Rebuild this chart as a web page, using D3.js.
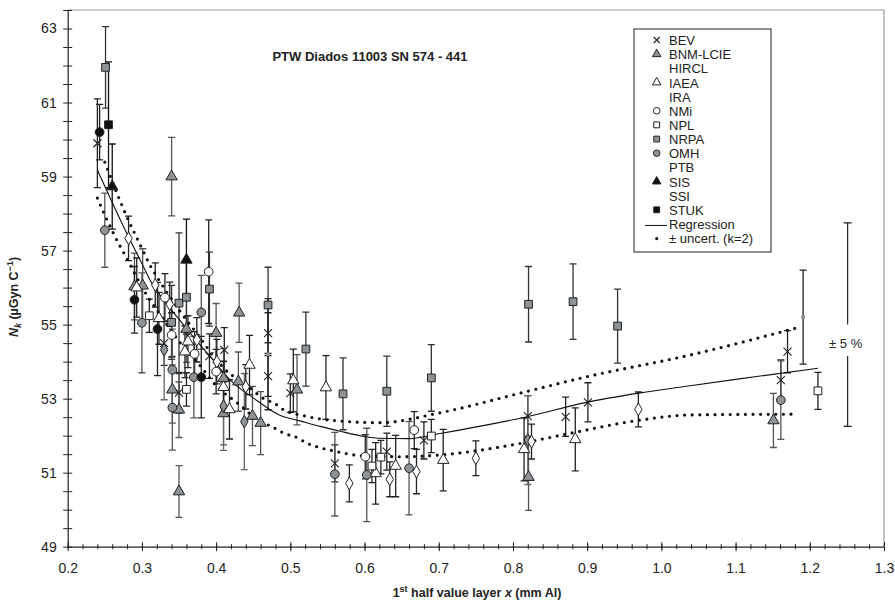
<!DOCTYPE html>
<html>
<head>
<meta charset="utf-8">
<script src="https://cdn.jsdelivr.net/npm/d3@7/dist/d3.min.js"></script>
<style>
  body { margin: 0; background: #fff; }
  svg { font-family: "Liberation Sans", Arial, sans-serif; }
</style>
</head>
<body>
<svg id="chart" width="895" height="601"></svg>
<script>
// each point: [half value layer x (mm Al), Nk (uGy/nC), expanded uncertainty]
const BEV = [
  [0.240, 59.90, 1.20], [0.330, 54.50, 0.60], [0.350, 53.16, 0.55], [0.391, 54.15, 0.60],
  [0.411, 54.32, 0.60], [0.470, 54.77, 0.55], [0.470, 53.61, 0.55], [0.500, 53.15, 0.52],
  [0.560, 51.25, 0.50], [0.630, 51.57, 0.50], [0.680, 51.87, 0.50], [0.820, 52.53, 0.55],
  [0.871, 52.51, 0.53], [0.901, 52.90, 0.53], [1.161, 53.50, 0.55], [1.170, 54.27, 0.57]
]
const BNM_LCIE = [
  [0.290, 56.03, 0.90], [0.301, 56.05, 1.00], [0.340, 59.00, 1.06], [0.341, 53.24, 0.90],
  [0.350, 52.70, 0.75], [0.350, 50.49, 0.70], [0.360, 54.88, 0.90], [0.400, 54.77, 0.80],
  [0.410, 53.55, 0.80], [0.410, 52.60, 0.85], [0.431, 55.32, 0.80], [0.430, 53.46, 0.80],
  [0.449, 52.53, 0.80], [0.460, 52.34, 0.85], [0.509, 53.24, 0.95], [0.821, 50.88, 0.90],
  [1.151, 52.41, 0.73]
]
const HIRCL = [
  [0.330, 54.32, 1.35], [0.410, 52.80, 1.20], [0.438, 52.38, 1.30], [0.820, 51.88, 1.20]
]
const IAEA = [
  [0.293, 56.00, 0.80], [0.323, 55.17, 0.70], [0.358, 54.27, 0.70], [0.362, 54.54, 0.70],
  [0.410, 53.31, 0.70], [0.418, 52.71, 0.80], [0.445, 53.91, 0.80], [0.504, 53.49, 0.85],
  [0.548, 53.30, 0.86], [0.615, 50.98, 0.83], [0.642, 51.18, 0.83], [0.706, 51.34, 0.83],
  [0.815, 51.63, 0.85], [0.884, 51.90, 0.85]
]
const IRA = [
  [0.282, 57.33, 0.60], [0.318, 56.07, 0.60], [0.3375, 55.55, 0.60], [0.374, 54.59, 0.60],
  [0.401, 54.00, 0.60], [0.440, 53.32, 0.60], [0.5795, 50.71, 0.50], [0.634, 50.82, 0.47],
  [0.670, 51.03, 0.60], [0.750, 51.39, 0.47], [0.825, 51.84, 0.47], [0.969, 52.71, 0.47]
]
const NMI = [
  [0.331, 55.73, 0.65], [0.340, 54.72, 0.60], [0.371, 54.21, 0.60], [0.390, 56.43, 1.40],
  [0.400, 53.73, 0.60], [0.601, 51.43, 0.60], [0.667, 52.15, 0.50]
]
const NPL = [
  [0.310, 55.24, 0.45], [0.360, 53.25, 0.45], [0.610, 51.18, 0.45], [0.622, 51.42, 0.45],
  [0.690, 51.99, 0.45], [1.211, 53.21, 0.50]
]
const NRPA = [
  [0.251, 61.95, 1.10], [0.340, 55.06, 1.00], [0.350, 55.58, 1.90], [0.360, 55.74, 1.00],
  [0.391, 55.96, 1.00], [0.470, 55.53, 1.02], [0.521, 54.34, 1.00], [0.571, 53.13, 0.97],
  [0.630, 53.20, 0.95], [0.690, 53.56, 0.90], [0.821, 55.55, 1.02], [0.881, 55.62, 1.02],
  [0.941, 54.96, 1.00]
]
const OMH = [
  [0.250, 57.55, 1.00], [0.300, 55.05, 1.35], [0.341, 53.78, 1.10], [0.341, 52.76, 1.15],
  [0.370, 53.58, 1.10], [0.380, 55.33, 1.00], [0.560, 50.96, 1.13], [0.603, 50.94, 1.26],
  [0.660, 51.12, 1.26], [1.161, 52.96, 1.06]
]
const PTB = [
  [0.243, 60.20, 0.75], [0.290, 55.67, 0.90], [0.321, 54.88, 1.26], [0.380, 53.58, 1.10]
]
const SIS = [[0.260, 58.73, 1.15], [0.360, 56.75, 1.10]]
const SSI = [[0.470, 54.20, 1.50], [1.191, 55.20, 1.27]]
const STUK = [[0.255, 60.40, 1.70]]

// regression and its k=2 band
const REG_X = [0.24, 0.26, 0.28, 0.30, 0.311, 0.33, 0.351, 0.37, 0.392, 0.419, 0.45, 0.486, 0.513,
  0.54, 0.567, 0.60, 0.621, 0.66, 0.702, 0.76, 0.819, 0.899, 0.97, 1.039, 1.10, 1.211]
const REG_Y = [59.18, 58.30, 57.45, 56.65, 56.20, 55.65, 55.12, 54.65, 54.14, 53.50, 53.02, 52.55, 52.40,
  52.25, 52.12, 51.98, 51.93, 51.92, 52.06, 52.27, 52.51, 52.90, 53.15, 53.35, 53.52, 53.82]
const UP_X = [0.25, 0.27, 0.28, 0.30, 0.31, 0.32, 0.35, 0.38, 0.40, 0.421, 0.431, 0.45, 0.46, 0.47,
  0.482, 0.49, 0.52, 0.558, 0.621, 0.702, 0.81, 0.899, 1.039, 1.18]
const UP_Y = [59.39, 58.37, 57.90, 57.06, 56.64, 56.30, 55.40, 54.60, 54.05, 53.64, 53.50, 53.22, 53.05, 52.95,
  52.83, 52.71, 52.53, 52.41, 52.35, 52.62, 53.15, 53.59, 54.18, 54.90]
const LO_X = [0.24, 0.25, 0.27, 0.28, 0.29, 0.31, 0.32, 0.35, 0.38, 0.40, 0.43, 0.44, 0.45, 0.47, 0.482,
  0.49, 0.511, 0.521, 0.536, 0.56, 0.60, 0.65, 0.702, 0.81, 0.881, 0.971, 1.039, 1.18]
const LO_Y = [58.42, 57.96, 57.14, 56.78, 56.39, 55.69, 55.40, 54.55, 53.85, 53.35, 52.86, 52.69, 52.51, 52.29, 52.17,
  52.08, 51.93, 51.81, 51.70, 51.58, 51.45, 51.43, 51.48, 51.79, 52.08, 52.42, 52.56, 52.58]

const X_TICKS = [0.2, 0.3, 0.4, 0.5, 0.6, 0.7, 0.8, 0.9, 1.0, 1.1, 1.2, 1.3]
const Y_LABELS = [49, 51, 53, 55, 57, 59, 61, 63]
const FIVE_PCT = [1.251, 55.0, 2.75]   // x, centre, half-width of the +-5 % bar

const GRAY = '#8d9297'
// marker style per series (legend: false -> row shows no symbol, as in the original)
const SERIES = [
  { name: 'BEV', data: BEV, shape: 'cross', fill: 'none', bar: '#222', legend: true },
  { name: 'BNM-LCIE', data: BNM_LCIE, shape: 'tri', fill: GRAY, bar: '#555', legend: true },
  { name: 'HIRCL', data: HIRCL, shape: 'dia', fill: GRAY, bar: '#666', legend: false },
  { name: 'IAEA', data: IAEA, shape: 'tri', fill: '#fff', bar: '#222', legend: true },
  { name: 'IRA', data: IRA, shape: 'dia', fill: '#fff', bar: '#222', legend: false },
  { name: 'NMi', data: NMI, shape: 'circ', fill: '#fff', bar: '#222', legend: true },
  { name: 'NPL', data: NPL, shape: 'sq', fill: '#fff', bar: '#222', legend: true },
  { name: 'NRPA', data: NRPA, shape: 'sq', fill: GRAY, bar: '#333', legend: true },
  { name: 'OMH', data: OMH, shape: 'circ', fill: GRAY, bar: '#555', legend: true },
  { name: 'PTB', data: PTB, shape: 'circ', fill: '#111', bar: '#222', legend: false },
  { name: 'SIS', data: SIS, shape: 'tri', fill: '#111', bar: '#111', legend: true },
  { name: 'SSI', data: SSI, shape: 'tiny', fill: GRAY, bar: '#222', legend: false },
  { name: 'STUK', data: STUK, shape: 'sq', fill: '#111', bar: '#111', legend: true }
]

const svg = d3.select('#chart')
const xScale = d3.scaleLinear().domain([0.2, 1.3]).range([67.7, 884])
const yScale = d3.scaleLinear().domain([49, 63.5]).range([546.7, 10])

// plot frame (top / right)
svg.append('path')
  .attr('d', `M${xScale(0.2)},${yScale(63.5)}H${xScale(1.3)}V${yScale(49)}`)
  .attr('fill', 'none').attr('stroke', '#9a9a9a').attr('stroke-width', 1.2)

// axes, ticks crossing the axis line
const xMinor = d3.range(0, 56).map(i => 0.2 + i * 0.02).filter(v => v <= 1.3001)
const gxMinor = svg.append('g').attr('transform', `translate(0,${yScale(49)})`)
  .call(d3.axisBottom(xScale).tickValues(xMinor).tickFormat('').tickSize(2.5).tickSizeOuter(0))
gxMinor.select('.domain').remove()
gxMinor.selectAll('.tick line').attr('y1', -2.5)

const gx = svg.append('g').attr('transform', `translate(0,${yScale(49)})`)
  .call(d3.axisBottom(xScale).tickValues(X_TICKS).tickFormat(d3.format('.1f')).tickSize(4.5).tickSizeOuter(0))
gx.selectAll('.tick line').attr('y1', -4.5)
gx.selectAll('.tick text').attr('y', 16).attr('font-size', 14).attr('fill', '#222')

const yTicks = d3.range(0, 30).map(i => 49 + i * 0.5)
const gy = svg.append('g').attr('transform', `translate(${xScale(0.2)},0)`)
  .call(d3.axisLeft(yScale).tickValues(yTicks)
    .tickFormat(d => Y_LABELS.includes(d) ? d : '').tickSize(4.5).tickSizeOuter(0))
gy.selectAll('.tick line').attr('x1', 4.5)
gy.selectAll('.tick text').attr('x', -11).attr('font-size', 14).attr('fill', '#222')
svg.selectAll('.domain').attr('stroke', '#222').attr('stroke-width', 1.2)
svg.selectAll('.tick line').attr('stroke', '#222')

// axis titles
svg.append('text')
  .attr('x', 477).attr('y', 597).attr('text-anchor', 'middle')
  .attr('font-size', 12.5).attr('font-weight', 'bold').attr('fill', '#222')
  .call(t => {
    t.append('tspan').text('1')
    t.append('tspan').text('st').attr('font-size', 9).attr('dy', -5)
    t.append('tspan').text(' half value layer ').attr('dy', 5)
    t.append('tspan').text('x').attr('font-style', 'italic')
    t.append('tspan').text(' (mm Al)')
  })

svg.append('text')
  .attr('transform', 'translate(18,297) rotate(-90)').attr('text-anchor', 'middle')
  .attr('font-size', 12.5).attr('font-weight', 'bold').attr('fill', '#222')
  .call(t => {
    t.append('tspan').text('N').attr('font-style', 'italic')
    t.append('tspan').text('k').attr('font-style', 'italic').attr('font-size', 9).attr('dy', 3)
    t.append('tspan').text(' (µGyn C').attr('dy', -3)
    t.append('tspan').text('−1').attr('font-size', 9).attr('dy', -5)
    t.append('tspan').text(')').attr('dy', 5)
  })

svg.append('text')
  .attr('x', 370).attr('y', 61).attr('text-anchor', 'middle')
  .attr('font-size', 13).attr('font-weight', 'bold').attr('fill', '#222')
  .text('PTW Diados 11003 SN 574 - 441')

// error bars
const gBars = svg.append('g')
SERIES.forEach(s => {
  s.data.forEach(([hx, nk, u]) => {
    const px = xScale(hx), y1 = yScale(nk - u), y2 = yScale(nk + u)
    gBars.append('path')
      .attr('d', `M${px},${y1}V${y2}M${px - 3.5},${y1}h7M${px - 3.5},${y2}h7`)
      .attr('stroke', s.bar).attr('stroke-width', 1.3).attr('fill', 'none')
  })
})

// regression and band
const line = d3.line().x(d => xScale(d[0])).y(d => yScale(d[1])).curve(d3.curveMonotoneX)
svg.append('path').attr('d', line(d3.zip(REG_X, REG_Y)))
  .attr('fill', 'none').attr('stroke', '#111').attr('stroke-width', 1.1)
;[[UP_X, UP_Y], [LO_X, LO_Y]].forEach(([bx, by]) => {
  svg.append('path').attr('d', line(d3.zip(bx, by)))
    .attr('fill', 'none').attr('stroke', '#111').attr('stroke-width', 3.2)
    .attr('stroke-linecap', 'round').attr('stroke-dasharray', '0,7.6')
})

// markers
function marker(g, shape, fill, scale) {
  const k = scale || 1
  if (shape === 'cross') {
    const a = 4 * k
    return g.append('path').attr('d', `M${-a},${-a}L${a},${a}M${-a},${a}L${a},${-a}`)
      .attr('stroke', '#222').attr('stroke-width', 1.1).attr('fill', 'none')
  }
  const types = { tri: d3.symbolTriangle, sq: d3.symbolSquare, circ: d3.symbolCircle, dia: d3.symbolDiamond, tiny: d3.symbolSquare }
  const sizes = { tri: 56, sq: 60, circ: 60, dia: 48, tiny: 14 }
  return g.append('path')
    .attr('d', d3.symbol().type(types[shape]).size(sizes[shape] * k * k)())
    .attr('fill', fill).attr('stroke', shape === 'tiny' ? 'none' : '#222').attr('stroke-width', 1)
}

const gMarks = svg.append('g')
SERIES.forEach(s => {
  s.data.forEach(([hx, nk]) => {
    const g = gMarks.append('g').attr('transform', `translate(${xScale(hx)},${yScale(nk)})`)
    marker(g, s.shape, s.fill)
  })
})

// +-5 % reference bar
const [fx, fc, fh] = FIVE_PCT
const fpx = xScale(fx)
svg.append('path')
  .attr('d', `M${fpx},${yScale(fc + fh)}V${yScale(fc)}M${fpx},${yScale(fc - 0.85)}V${yScale(fc - fh)}` +
    `M${fpx - 4},${yScale(fc + fh)}h8M${fpx - 4},${yScale(fc - fh)}h8`)
  .attr('stroke', '#222').attr('stroke-width', 1.2).attr('fill', 'none')
svg.append('text').attr('x', fpx - 2).attr('y', yScale(fc - 0.5) + 5)
  .attr('text-anchor', 'middle').attr('font-size', 13).attr('fill', '#222').text('± 5 %')

// legend: 15 evenly spaced rows
const LEG_TOP = 40.5, LEG_STEP = 14.15
const leg = svg.append('g')
leg.append('rect').attr('x', 634).attr('y', 29).attr('width', 137).attr('height', 223)
  .attr('fill', '#fff').attr('stroke', '#222').attr('stroke-width', 1)
SERIES.forEach((s, i) => {
  const cy = LEG_TOP + i * LEG_STEP
  if (s.legend) {
    const g = leg.append('g').attr('transform', `translate(656.7,${cy - 0.5})`)
    marker(g, s.shape, s.fill, 0.75)
  }
  leg.append('text').attr('x', 669).attr('y', cy + 4.6)
    .attr('font-size', 13).attr('fill', '#222').text(s.name)
})
const rRow = LEG_TOP + 13 * LEG_STEP, uRow = LEG_TOP + 14 * LEG_STEP
leg.append('line').attr('x1', 645).attr('x2', 667).attr('y1', rRow + 1).attr('y2', rRow + 1)
  .attr('stroke', '#111').attr('stroke-width', 1)
leg.append('text').attr('x', 669).attr('y', rRow + 4.6).attr('font-size', 13).attr('fill', '#222').text('Regression')
leg.append('circle').attr('cx', 656.7).attr('cy', uRow).attr('r', 1.6).attr('fill', '#111')
leg.append('text').attr('x', 669).attr('y', uRow + 4.6).attr('font-size', 13).attr('fill', '#222').text('± uncert. (k=2)')
</script>
</body>
</html>
